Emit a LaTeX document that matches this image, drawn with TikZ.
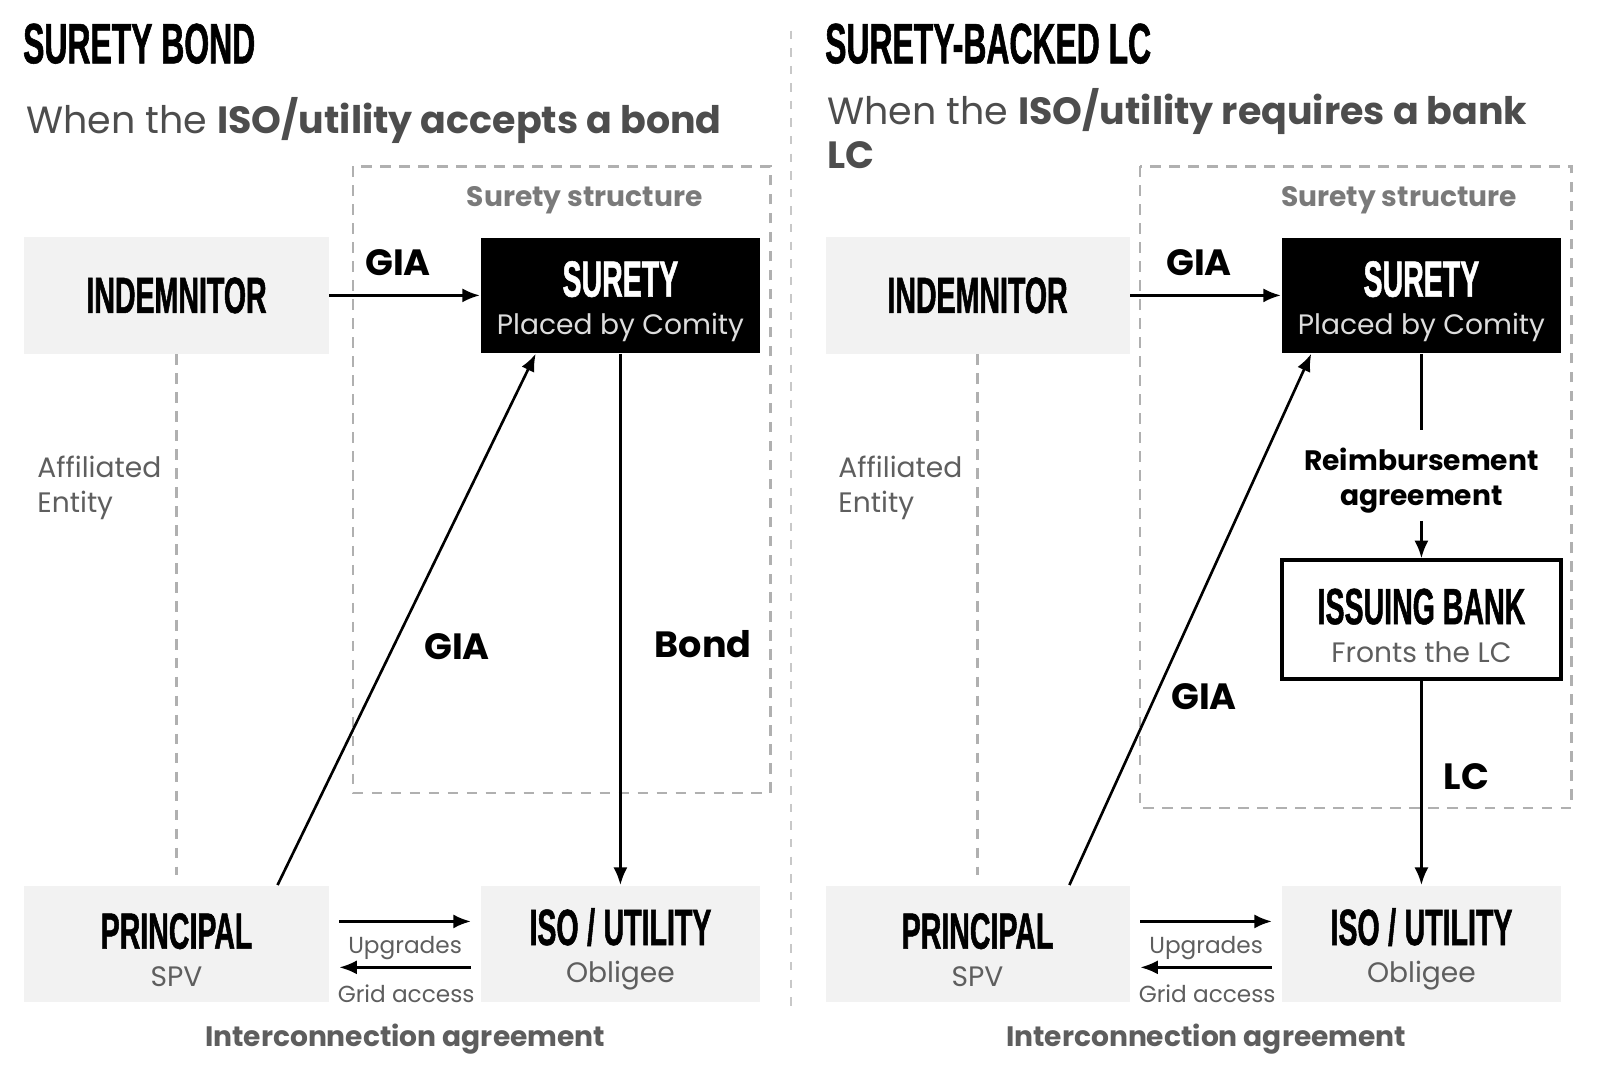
\documentclass[tikz,border=0pt]{standalone}
\usepackage{fontspec}
\setmainfont{Poppins}
\newfontfamily\headfont[FakeStretch=0.56,FakeBold=1]{Liberation Sans Bold}
\usetikzlibrary{arrows.meta,calc}

\definecolor{boxGray}{HTML}{F2F2F2}
\definecolor{dashGray}{HTML}{B0B0B0}
\definecolor{sepGray}{HTML}{C8C8C8}
\definecolor{midGray}{HTML}{5E5E5E}
\definecolor{subGray}{HTML}{4D4D4D}
\definecolor{structGray}{HTML}{7A7A7A}
\definecolor{paleGray}{HTML}{DDDDDD}

\newcommand{\boxHead}{\headfont\fontsize{14.5}{16}\selectfont\rule{0pt}{13.6pt}}
\newcommand{\boxSub}{\fontsize{8}{10}\selectfont}

\begin{document}
\begin{tikzpicture}
[x=0.10204mm,y=-0.10204mm,
  grayBox/.style={shape=rectangle,fill=boxGray,inner sep=0pt,align=center,
    minimum width=30.41mm,minimum height=11.63mm,font=\fontsize{8}{10.2}\selectfont},
  blackBox/.style={grayBox,fill=black,minimum width=27.96mm,minimum height=11.53mm},
  isoBox/.style={grayBox,minimum width=27.96mm},
  bankBox/.style={grayBox,fill=white,draw=black,line width=1.1pt,
    minimum width=27.96mm,minimum height=11.84mm},
  lineDecorate/.style={-{Latex[length=5pt,width=4pt]},line width=0.75pt},
  dashDecorate/.style={draw=dashGray,line width=0.7pt,dash pattern=on 3pt off 2.4pt},
  titleText/.style={font=\headfont\fontsize{16.2}{18}\selectfont,inner sep=0pt},
  subText/.style={font=\fontsize{10.8}{13}\selectfont,text=subGray,inner sep=0pt},
  boldLabel/.style={font=\bfseries\fontsize{10.4}{12}\selectfont,inner sep=0pt},
  smallLabel/.style={font=\fontsize{6.6}{8}\selectfont,text=midGray,inner sep=0pt},
  noteText/.style={font=\fontsize{8}{9.9}\selectfont,text=midGray,inner sep=0pt},
  boldNote/.style={font=\bfseries\fontsize{8}{9.9}\selectfont,inner sep=0pt}]
\fill[white] (0,0) rectangle (1568,1063);
\useasboundingbox (0,0) rectangle (1568,1063);

%% titles
\node[titleText,anchor=base west] (ltitle) at (22,62) {SURETY BOND};
\node[titleText,anchor=base west] (rtitle) at (808,62) {SURETY-BACKED LC};
\node[subText,anchor=base west] (lsub) at (25,131)
  {When the \textbf{ISO/utility accepts a bond}};
\node[subText,anchor=base west] (rsub) at (810,122)
  {When the \textbf{ISO/utility requires a bank}};
\node[subText,anchor=base west] (rsubb) at (810,165) {\textbf{LC}};

%% separator and surety structure frames
\draw[draw=sepGray,line width=0.7pt,dash pattern=on 2.4pt off 2.6pt] (775,30) -- (775,990);
\draw[dashDecorate] (346,163) rectangle (755,777);
\draw[dashDecorate] (1117,163) rectangle (1540,792);
\node[boldNote,text=structGray] (lstruct) at (573,196) {Surety structure};
\node[boldNote,text=structGray] (rstruct) at (1371,196) {Surety structure};

%% nodes, left side
\node[grayBox] (lind) at (173,289.5) {{\headfont\fontsize{14.5}{16}\selectfont INDEMNITOR}};
\node[blackBox] (lsur) at (608,289.5)
  {{\boxHead\color{white}SURETY}\\[0.6pt]{\boxSub\color{paleGray}Placed by Comity}};
\node[grayBox] (lpri) at (173,925)
  {{\boxHead PRINCIPAL}\\[0.6pt]{\boxSub\color{midGray}SPV}};
\node[isoBox] (liso) at (608,925)
  {{\boxHead ISO\,/\,UTILITY}\\[0.6pt]{\boxSub\color{midGray}Obligee}};

%% nodes, right side
\node[grayBox] (rind) at (958,289.5) {{\headfont\fontsize{14.5}{16}\selectfont INDEMNITOR}};
\node[blackBox] (rsur) at (1393,289.5)
  {{\boxHead\color{white}SURETY}\\[0.6pt]{\boxSub\color{paleGray}Placed by Comity}};
\node[bankBox] (rbank) at (1393,607)
  {{\boxHead ISSUING BANK}\\[0.6pt]{\boxSub\color{midGray}Fronts the LC}};
\node[grayBox] (rpri) at (958,925)
  {{\boxHead PRINCIPAL}\\[0.6pt]{\boxSub\color{midGray}SPV}};
\node[isoBox] (riso) at (1393,925)
  {{\boxHead ISO\,/\,UTILITY}\\[0.6pt]{\boxSub\color{midGray}Obligee}};

%% affiliated entity
\draw[dashDecorate] (lind.south) -- ($(lpri.north)+(0,-10)$);
\draw[dashDecorate] (rind.south) -- ($(rpri.north)+(0,-10)$);
\node[noteText,anchor=west,align=left] (laff) at (36,478) {Affiliated\\Entity};
\node[noteText,anchor=west,align=left] (raff) at (821,478) {Affiliated\\Entity};

%% edges
\path
\foreach \startnode/\endnode in {lind/lsur, rind/rsur, lsur/liso, rbank/riso}
{
  (\startnode) edge[lineDecorate] (\endnode)
};
\draw[lineDecorate] ($(lpri.north)+(99,0)$) -- ($(lsur.south)+(-83,0)$);
\draw[lineDecorate] ($(rpri.north)+(90,0)$) -- ($(rsur.south)+(-108,0)$);
\node[boldLabel] (lgiaa) at (390,257) {GIA};
\node[boldLabel] (rgiaa) at (1175,257) {GIA};
\node[boldLabel] (lgiab) at (448,634) {GIA};
\node[boldLabel] (rgiab) at (1180,683) {GIA};
\node[boldLabel] (lbond) at (689,631) {Bond};
\node[boldLabel] (rlc) at (1437,761) {LC};

%% reimbursement agreement
\node[boldNote,align=center] (rreim) at (1393,471) {Reimbursement\\agreement};
\draw[line width=0.75pt] (rsur.south) -- ([yshift=5pt]rreim.north);
\draw[lineDecorate] ([yshift=-2pt]rreim.south) -- (rbank.north);

%% interconnection agreement
\foreach \pri/\iso/\cx in {lpri/liso/397, rpri/riso/1182}
{
  \draw[lineDecorate,shorten <=1mm,shorten >=0.9mm]
    ($(\pri.east)+(0,-22)$) -- ($(\iso.west)+(0,-22)$);
  \draw[lineDecorate,shorten <=0.9mm,shorten >=1mm]
    ($(\iso.west)+(0,23)$) -- ($(\pri.east)+(0,23)$);
  \node[smallLabel] at (\cx,929) {Upgrades};
  \node[smallLabel] at (\cx+1,974) {Grid access};
  \node[boldNote,text=midGray] at (\cx,1018) {Interconnection agreement};
}
\end{tikzpicture}
\end{document}
